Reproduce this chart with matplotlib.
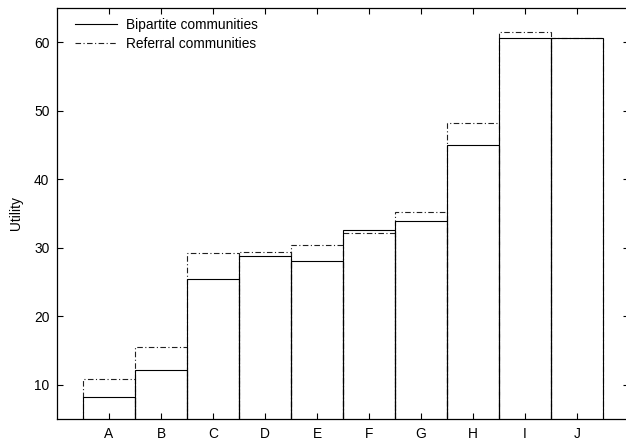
#!/usr/bin/env python3
"""Utility per community: bipartite vs referral (gnuplot-style boxes)."""

import matplotlib

matplotlib.use("Agg")
import matplotlib.pyplot as plt
from matplotlib.lines import Line2D

categories = ["A", "B", "C", "D", "E", "F", "G", "H", "I", "J"]
bipartite = [8.15, 12.2, 25.4, 28.85, 28.0, 32.55, 33.85, 45.0, 60.6, 60.6]
referral = [10.85, 15.5, 29.3, 29.45, 30.35, 32.1, 35.15, 48.25, 61.45, 60.6]

plt.rcParams["font.family"] = ["Liberation Sans", "DejaVu Sans"]
plt.rcParams["font.size"] = 9.9

DASHDOT = (0, (5, 2.2, 1, 2.2))


def main() -> int:
    fig = plt.figure(figsize=(6.26, 4.4), dpi=100)
    ax = fig.add_axes([57 / 626, 21 / 440, 572 / 626, 411 / 440])

    x = list(range(1, len(categories) + 1))
    ax.bar(x, referral, width=1.0, fill=False, edgecolor="#202020",
           linewidth=0.8, linestyle=DASHDOT, zorder=2)
    ax.bar(x, bipartite, width=1.0, fill=False, edgecolor="black",
           linewidth=0.8, zorder=3)

    ax.set_xlim(0, len(categories) + 1)
    ax.set_ylim(5, 65)
    ax.set_xticks(x)
    ax.set_xticklabels(categories)
    ax.set_yticks([10, 20, 30, 40, 50, 60])
    ax.set_ylabel("Utility", labelpad=8)

    ax.tick_params(direction="in", length=4.3, width=0.8, top=True, right=True)
    ax.tick_params(axis="y", pad=5.5)
    ax.tick_params(axis="x", pad=6)
    for sp in ax.spines.values():
        sp.set_linewidth(0.9)

    handles = [
        Line2D([], [], color="black", linewidth=0.8),
        Line2D([], [], color="#202020", linewidth=0.8, linestyle=DASHDOT),
    ]
    ax.legend(handles, ["Bipartite communities", "Referral communities"],
              loc="upper left", bbox_to_anchor=(0.031, 0.975), frameon=False,
              borderaxespad=0, borderpad=0, handlelength=3.1,
              handletextpad=0.66, labelspacing=0.33)

    fig.savefig("out.png", dpi=100)
    plt.close(fig)
    return 0


if __name__ == "__main__":
    raise SystemExit(main())
